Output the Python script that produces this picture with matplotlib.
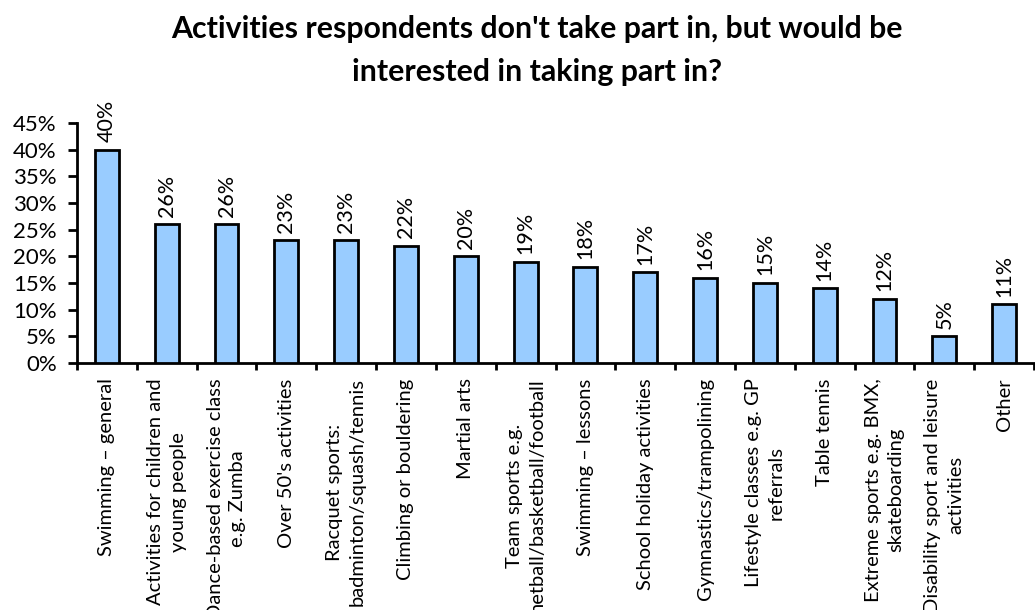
import matplotlib
matplotlib.use("Agg")
import matplotlib.pyplot as plt
from matplotlib.ticker import FixedLocator, PercentFormatter
import numpy as np

categories = [
    "Swimming \u2013 general",
    "Activities for children and\nyoung people",
    "Dance-based exercise class\ne.g. Zumba",
    "Over 50's activities",
    "Racquet sports:\nbadminton/squash/tennis",
    "Climbing or bouldering",
    "Martial arts",
    "Team sports e.g.\nnetball/basketball/football",
    "Swimming \u2013 lessons",
    "School holiday activities",
    "Gymnastics/trampolining",
    "Lifestyle classes e.g. GP\nreferrals",
    "Table tennis",
    "Extreme sports e.g. BMX,\nskateboarding",
    "Disability sport and leisure\nactivities",
    "Other",
]
values = [40, 26, 26, 23, 23, 22, 20, 19, 18, 17, 16, 15, 14, 12, 5, 11]
title_lines = ["Activities respondents don't take part in, but would be",
               "interested in taking part in?"]

plt.rcParams['font.family'] = ['Lato', 'DejaVu Sans']

fig = plt.figure(figsize=(10.35, 6.1), dpi=100)
ax = fig.add_axes([77/1035, 1-363/610, (1034-77)/1035, (363-123)/610])

x = np.arange(len(categories))
ax.bar(x, values, width=0.4, color="#99CCFF", edgecolor="black", linewidth=2.0, zorder=3)

for xi, v in zip(x, values):
    ax.annotate(f"{v}%", (xi, v), xytext=(0, 5.5), textcoords="offset points",
                rotation=90, ha="center", va="bottom", fontsize=15.5)

ax.set_xlim(-0.5, len(categories) - 0.5)
ax.set_ylim(0, 45)
ax.set_yticks(np.arange(0, 46, 5))
ax.yaxis.set_major_formatter(PercentFormatter(decimals=0))
ax.tick_params(axis='y', labelsize=16, length=6.5, width=2.0, direction='out', pad=8)

ax.set_xticks(x)
ax.set_xticklabels(categories, rotation=90, fontsize=14.5, multialignment='center',
                   ha='center', va='top', linespacing=1.4)
ax.tick_params(axis='x', which='major', length=0, pad=11)
ax.xaxis.set_minor_locator(FixedLocator(np.arange(-0.5, len(categories), 1.0)))
ax.tick_params(axis='x', which='minor', length=5, width=2.0, direction='out')

for s in ['top', 'right']:
    ax.spines[s].set_visible(False)
for s in ['left', 'bottom']:
    ax.spines[s].set_linewidth(2.0)

fig.text(537/1035, 1-38/610, title_lines[0], ha='center', va='baseline', fontsize=21.8,
         fontweight='bold')
fig.text(537/1035, 1-81/610, title_lines[1], ha='center', va='baseline', fontsize=21.8,
         fontweight='bold')

fig.savefig("out.png", dpi=100)
